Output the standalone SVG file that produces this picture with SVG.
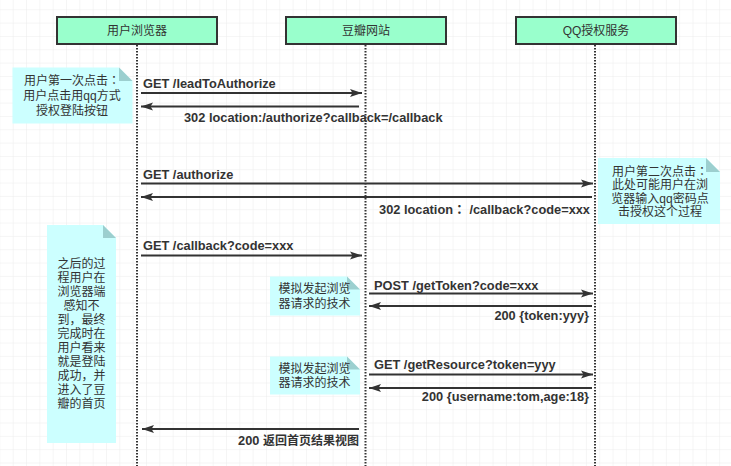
<svg xmlns="http://www.w3.org/2000/svg" width="731" height="466" viewBox="0 0 731 466">
<style>
.box{fill:#99ffcc;stroke:#333;stroke-width:2}
.boxt{font-family:"Liberation Sans","Noto Sans CJK SC",sans-serif;font-size:12px;fill:#333;text-anchor:middle}
.life{stroke:#333;stroke-width:2;stroke-dasharray:1.5 1.5;fill:none}
.msg{stroke:#333;stroke-width:1.8;fill:none}
.lbl{font-family:"Liberation Sans","Noto Sans CJK SC",sans-serif;font-size:12.8px;font-weight:bold;fill:#333}
.note{fill:#ccffff}
.fold{fill:#9ccfcf}
.nt{font-family:"Liberation Sans","Noto Sans CJK SC",sans-serif;font-size:12px;fill:#333;text-anchor:middle}
.p{font-family:"Noto Sans CJK TC","Noto Sans CJK SC",sans-serif}
</style>
<defs>
<pattern id="grid" x="12.7" y="9.3" width="13.33" height="13.33" patternUnits="userSpaceOnUse">
<path d="M0 0 H13.33 M0 0 V13.33" stroke="#ebebeb" stroke-width="1" fill="none"/>
</pattern>
<marker id="ah" viewBox="0 0 12 8" markerWidth="12" markerHeight="8.5" refX="12" refY="4" orient="auto" markerUnits="userSpaceOnUse">
<path d="M0 0 L12 4 L0 8 L2.5 4 Z" fill="#333"/>
</marker>
</defs>
<rect width="731" height="466" fill="#ffffff"/>
<rect width="731" height="466" fill="url(#grid)"/>

<g id="lifelines">
<line class="life" x1="137" y1="45" x2="137" y2="466"/>
<line class="life" x1="365.5" y1="45" x2="365.5" y2="466"/>
<line class="life" x1="595" y1="45" x2="595" y2="466"/>
</g>

<g id="browser">
<rect class="box" x="57" y="17" width="160" height="27"/>
<text class="boxt" x="137" y="34.5">用户浏览器</text>
</g>
<g id="douban">
<rect class="box" x="286" y="17" width="160" height="27"/>
<text class="boxt" x="366" y="34.5">豆瓣网站</text>
</g>
<g id="qq">
<rect class="box" x="516" y="17" width="160" height="27"/>
<text class="boxt" x="596" y="34.5">QQ授权服务</text>
</g>

<g id="note1">
<path class="note" d="M12.5 67.5 H119 L132.5 81 V123.5 H12.5 Z"/>
<path class="fold" d="M119 67.5 V81 H132.5 Z"/>
<text class="nt" x="72" y="85">用户第一次点击<tspan class="p">：</tspan></text>
<text class="nt" x="72" y="100">用户点击用qq方式</text>
<text class="nt" x="72" y="114.5">授权登陆按钮</text>
</g>
<g id="note2">
<path class="note" d="M598 158 H706 L720 172 V224 H598 Z"/>
<path class="fold" d="M706 158 V172 H720 Z"/>
<text class="nt" x="660" y="176">用户第二次点击<tspan class="p">：</tspan></text>
<text class="nt" x="660" y="189">此处可能用户在浏</text>
<text class="nt" x="660" y="202.5">览器输入qq密码点</text>
<text class="nt" x="660" y="216">击授权这个过程</text>
</g>
<g id="note3">
<path class="note" d="M47 225 H103 L116 238 V443 H47 Z"/>
<path class="fold" d="M103 225 V238 H116 Z"/>
<text class="nt" x="81.5" y="267.5">之后的过</text>
<text class="nt" x="81.5" y="281.5">程用户在</text>
<text class="nt" x="81.5" y="295.5">浏览器端</text>
<text class="nt" x="81.5" y="309.5">感知不</text>
<text class="nt" x="81.5" y="323.5">到，最终</text>
<text class="nt" x="81.5" y="337.5">完成时在</text>
<text class="nt" x="81.5" y="351.5">用户看来</text>
<text class="nt" x="81.5" y="365.5">就是登陆</text>
<text class="nt" x="81.5" y="379.5">成功，并</text>
<text class="nt" x="81.5" y="393.5">进入了豆</text>
<text class="nt" x="81.5" y="407.5">瓣的首页</text>
</g>
<g id="note4">
<path class="note" d="M270 276.5 H347 L360 289.5 V315.5 H270 Z"/>
<path class="fold" d="M347 276.5 V289.5 H360 Z"/>
<text class="nt" x="314.5" y="293">模拟发起浏览</text>
<text class="nt" x="314.5" y="307.5">器请求的技术</text>
</g>
<g id="note5">
<path class="note" d="M270 356.5 H347 L360 369.5 V394.5 H270 Z"/>
<path class="fold" d="M347 356.5 V369.5 H360 Z"/>
<text class="nt" x="314.5" y="372.5">模拟发起浏览</text>
<text class="nt" x="314.5" y="387">器请求的技术</text>
</g>

<g id="connectors">
<line class="msg" x1="141" y1="93" x2="362" y2="93" marker-end="url(#ah)"/>
<line class="msg" x1="359" y1="106.5" x2="141" y2="106.5" marker-end="url(#ah)"/>
<line class="msg" x1="141" y1="183.5" x2="593" y2="183.5" marker-end="url(#ah)"/>
<line class="msg" x1="592" y1="197" x2="141" y2="197" marker-end="url(#ah)"/>
<line class="msg" x1="141" y1="255.5" x2="362" y2="255.5" marker-end="url(#ah)"/>
<line class="msg" x1="369" y1="293.5" x2="593" y2="293.5" marker-end="url(#ah)"/>
<line class="msg" x1="592" y1="306" x2="369" y2="306" marker-end="url(#ah)"/>
<line class="msg" x1="369" y1="374.5" x2="593" y2="374.5" marker-end="url(#ah)"/>
<line class="msg" x1="592" y1="388" x2="369" y2="388" marker-end="url(#ah)"/>
<line class="msg" x1="359" y1="429" x2="142" y2="429" marker-end="url(#ah)"/>
<text class="lbl" x="143" y="87.5">GET /leadToAuthorize</text>
<text class="lbl" x="184" y="121.5">302 location:/authorize?callback=/callback</text>
<text class="lbl" x="143" y="178.5">GET /authorize</text>
<text class="lbl" x="590" y="213.5" text-anchor="end">302 location<tspan class="p">：</tspan> /callback?code=xxx</text>
<text class="lbl" x="143" y="249.5">GET /callback?code=xxx</text>
<text class="lbl" x="374" y="289.5">POST /getToken?code=xxx</text>
<text class="lbl" x="589" y="319.5" text-anchor="end">200 {token:yyy}</text>
<text class="lbl" x="374" y="368.5">GET /getResource?token=yyy</text>
<text class="lbl" x="589" y="400.5" text-anchor="end">200 {username:tom,age:18}</text>
<text class="lbl" x="359" y="444.5" text-anchor="end">200 <tspan font-size="12px">返回首页结果视图</tspan></text>
</g>
</svg>
